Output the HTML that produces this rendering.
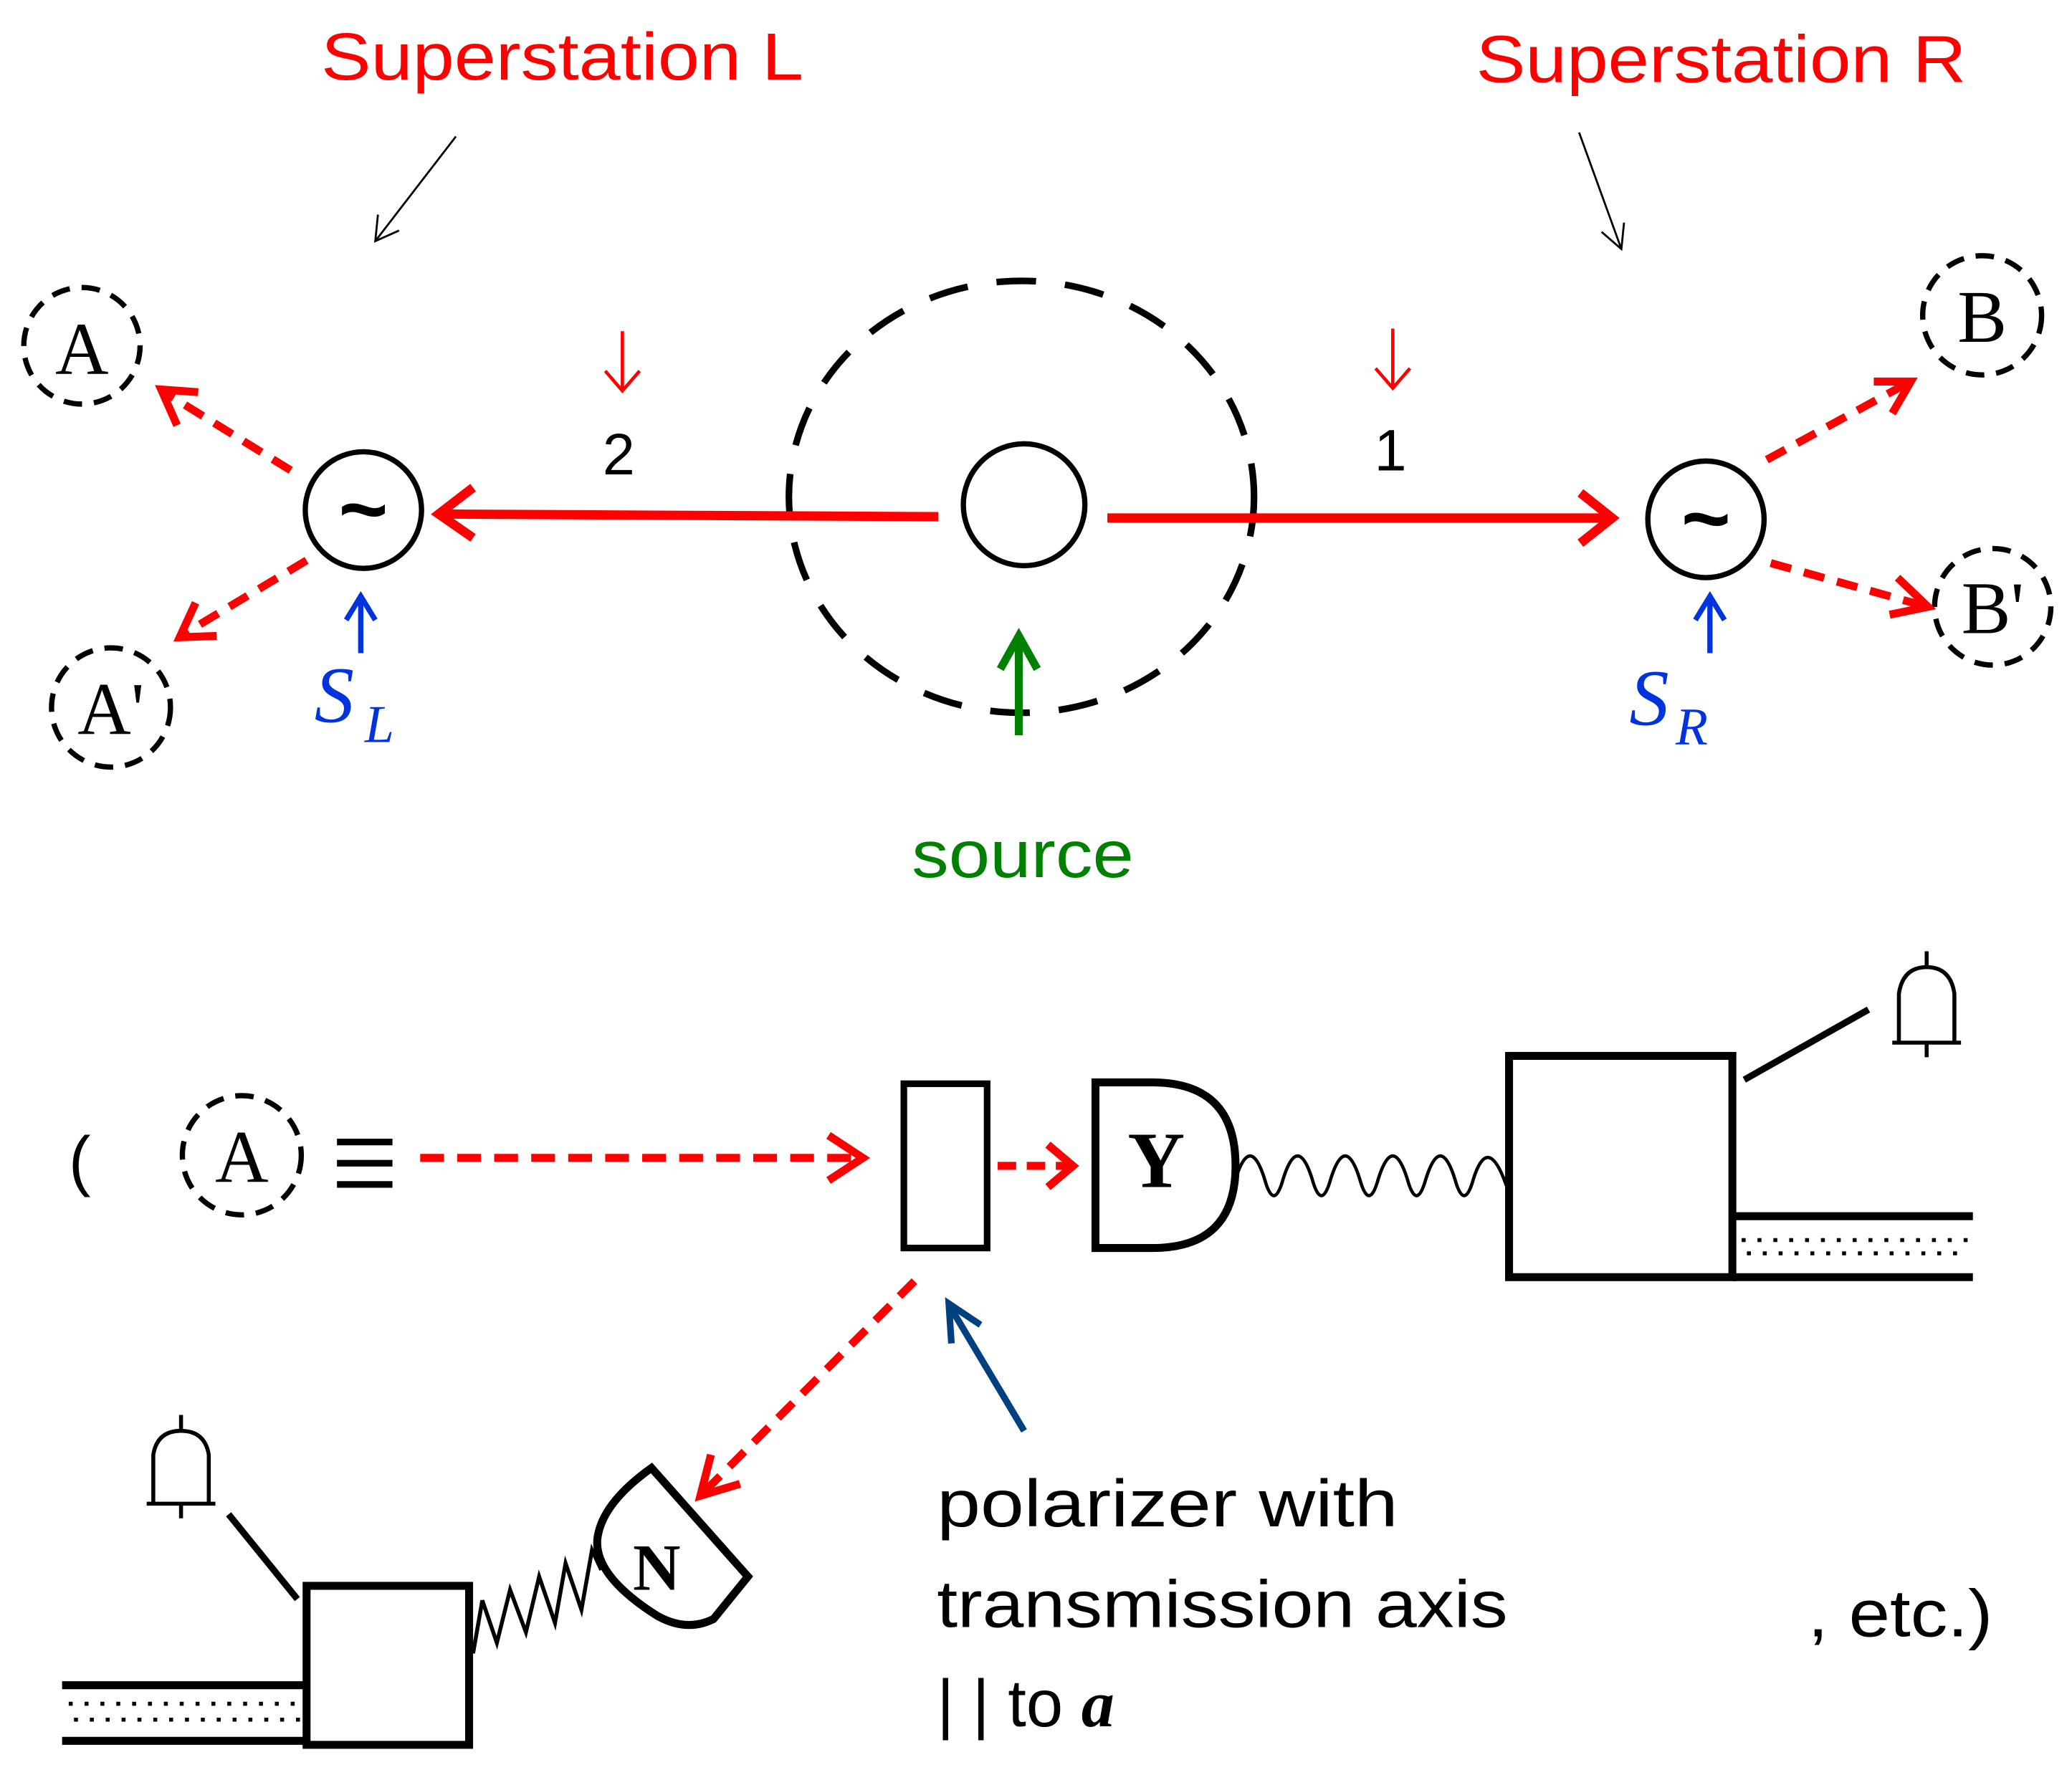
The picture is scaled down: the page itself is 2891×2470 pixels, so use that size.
<!DOCTYPE html>
<html><head><meta charset="utf-8"><style>html,body{margin:0;padding:0;background:#fff}svg{display:block}</style></head>
<body>
<svg width="2891" height="2470" viewBox="0 0 1568 1336" preserveAspectRatio="none" xmlns="http://www.w3.org/2000/svg">
<g font-family="Liberation Sans, sans-serif">
<text x="243" y="60" font-size="50" fill="red" textLength="365" lengthAdjust="spacingAndGlyphs">Superstation L</text>
<text x="1117" y="62" font-size="50" fill="red" textLength="371" lengthAdjust="spacingAndGlyphs">Superstation R</text>
<text x="690" y="662" font-size="50" fill="green" textLength="168" lengthAdjust="spacingAndGlyphs">source</text>
<text x="709" y="1152" font-size="50" textLength="349" lengthAdjust="spacingAndGlyphs">polarizer with</text>
<text x="709" y="1228" font-size="50" textLength="432" lengthAdjust="spacingAndGlyphs">transmission axis</text>
<text x="709" y="1303" font-size="50">| | to <tspan font-family="Liberation Serif" font-style="italic" font-weight="bold">a</tspan></text>
<text x="1368" y="1235" font-size="50" textLength="140" lengthAdjust="spacingAndGlyphs">, etc.)</text>
<text x="52" y="893" font-size="50">(</text>
<text x="456" y="358" font-size="44">2</text>
<text x="1040" y="355" font-size="44">1</text>
</g>
<g stroke="#000" stroke-width="1.5" fill="none">
<line x1="345" y1="103" x2="284" y2="182"/><path d="M286,162 L284,182 L302,174"/>
<line x1="1195" y1="100" x2="1227" y2="188"/><path d="M1212,175 L1227,188 L1229,168"/>
</g>
<g stroke="#000" stroke-width="4" fill="none" stroke-dasharray="14 9">
<circle cx="62" cy="261" r="44"/>
<circle cx="84" cy="534" r="45"/>
<circle cx="1500" cy="238" r="45"/>
<circle cx="1508" cy="458" r="44"/>
<circle cx="183" cy="872" r="45"/>
<ellipse cx="773" cy="375" rx="176" ry="163" stroke-width="5" stroke-dasharray="30 22"/>
</g>
<g font-family="Liberation Serif, serif" font-size="56" text-anchor="middle">
<text x="62" y="282">A</text>
<text x="84" y="554">A'</text>
<text x="1500" y="258">B</text>
<text x="1508" y="478">B'</text>
<text x="183" y="892">A</text>
</g>
<g stroke="#000" stroke-width="4" fill="none">
<circle cx="275" cy="385" r="44"/>
<circle cx="1291" cy="392" r="44"/>
<circle cx="775" cy="381" r="46"/>
</g>
<g font-family="Liberation Sans, sans-serif" font-size="64" font-weight="bold" text-anchor="middle">
<text x="275" y="406">~</text><text x="1291" y="413">~</text>
</g>
<g stroke="red" stroke-width="7" fill="none">
<line x1="710" y1="390" x2="332" y2="388"/><path d="M358,368 L332,388 L358,406"/>
<line x1="838" y1="391" x2="1220" y2="391"/><path d="M1196,372 L1220,391 L1196,410"/>
</g>
<g stroke="red" stroke-width="2.5" fill="none">
<line x1="471" y1="250" x2="471" y2="295"/><path d="M458,280 L471,295 L484,280"/>
<line x1="1054" y1="248" x2="1054" y2="293"/><path d="M1041,278 L1054,293 L1067,278"/>
</g>
<g stroke="red" stroke-width="6" fill="none">
<line x1="220" y1="355" x2="126" y2="297" stroke-dasharray="16 10"/><path d="M150,296 L122,294 L134,321"/>
<line x1="232" y1="423" x2="140" y2="478" stroke-dasharray="16 10"/><path d="M148,455 L136,481 L164,480"/>
<line x1="1337" y1="347" x2="1442" y2="290" stroke-dasharray="16 10"/><path d="M1418,288 L1446,288 L1432,312"/>
<line x1="1340" y1="425" x2="1455" y2="457" stroke-dasharray="16 10"/><path d="M1436,436 L1459,458 L1430,464"/>
<line x1="318" y1="874" x2="650" y2="874" stroke-dasharray="18 10"/><path d="M627,857 L653,874 L627,891"/>
<line x1="755" y1="880" x2="810" y2="880" stroke-dasharray="14 8"/><path d="M793,864 L812,880 L793,896"/>
<line x1="692" y1="967" x2="533" y2="1126" stroke-dasharray="16 10"/><path d="M538,1098 L530,1129 L560,1120"/>
</g>
<g stroke="#0033dd" stroke-width="4" fill="none">
<line x1="273" y1="493" x2="273" y2="452"/><path d="M262,468 L273,450 L284,468"/>
<line x1="1294" y1="493" x2="1294" y2="452"/><path d="M1283,468 L1294,450 L1305,468"/>
</g>
<g font-family="Liberation Serif, serif" font-style="italic" fill="#0033dd">
<text x="238" y="545" font-size="60">S</text><text x="276" y="560" font-size="40">L</text>
<text x="1233" y="547" font-size="60">S</text><text x="1268" y="562" font-size="40">R</text>
</g>
<g stroke="green" stroke-width="6" fill="none">
<line x1="771" y1="555" x2="771" y2="482"/><path d="M757,505 L771,480 L785,505"/>
</g>
<g stroke="#004080" stroke-width="5" fill="none">
<line x1="775" y1="1080" x2="720" y2="988"/><path d="M720,1014 L718,984 L742,1000"/>
</g>
<g stroke="#000" stroke-width="5"><line x1="255" y1="862" x2="297" y2="862"/><line x1="255" y1="878" x2="297" y2="878"/><line x1="255" y1="894" x2="297" y2="894"/></g>
<g stroke="#000" fill="none">
<rect x="684" y="818" width="63" height="124" stroke-width="5"/>
<path d="M829,817 L872,817 Q935,817 935,880 Q935,942 872,942 L829,942 Z" stroke-width="6"/>
<path d="M935,890 Q946,855 957,890 Q964,915 971,890 Q982,855 993,890 Q1000,915 1007,890 Q1018,855 1029,890 Q1036,915 1043,890 Q1054,855 1065,890 Q1072,915 1079,890 Q1090,855 1101,890 Q1108,915 1115,890 Q1126,855 1140,895" stroke-width="2.5"/>
<rect x="1142" y="797" width="169" height="167" stroke-width="6"/>
<line x1="1311" y1="918" x2="1493" y2="918" stroke-width="6"/>
<line x1="1311" y1="964" x2="1493" y2="964" stroke-width="6"/>
<line x1="1320" y1="815" x2="1414" y2="762" stroke-width="5"/>
<path d="M1437,787 L1437,750 Q1440,730 1458,730 Q1476,730 1479,750 L1479,787 Z M1432,787 L1484,787 M1458,718 L1458,730 M1458,787 L1458,798" stroke-width="3"/>
<path d="M493,1108 L566,1190 L540,1222 Q520,1232 498,1220 Q450,1190 452,1162 Q455,1135 493,1108 Z" stroke-width="6"/>
<path d="M455,1185 L448,1170 L440,1215 L428,1180 L420,1225 L408,1190 L398,1232 L386,1200 L376,1240 L365,1208 L358,1248" stroke-width="3"/>
<rect x="232" y="1197" width="123" height="120" stroke-width="6"/>
<line x1="47" y1="1272" x2="232" y2="1272" stroke-width="6"/>
<line x1="47" y1="1314" x2="232" y2="1314" stroke-width="6"/>
<line x1="173" y1="1143" x2="225" y2="1207" stroke-width="5"/>
<path d="M116,1135 L116,1098 Q119,1080 137,1080 Q155,1080 158,1098 L158,1135 Z M111,1135 L163,1135 M137,1068 L137,1080 M137,1135 L137,1146" stroke-width="3"/>
</g>
<g stroke="#000" stroke-width="3" stroke-dasharray="3 9">
<path d="M1318,936 L1490,936 M1322,946 L1490,946" />
<path d="M52,1286 L228,1286 M56,1298 L228,1298"/>
</g>
<g font-family="Liberation Serif, serif" font-weight="bold" text-anchor="middle">
<text x="875" y="896" font-size="60">Y</text>
<text x="497" y="1200" font-size="50">N</text>
</g>
</svg>
</body></html>
